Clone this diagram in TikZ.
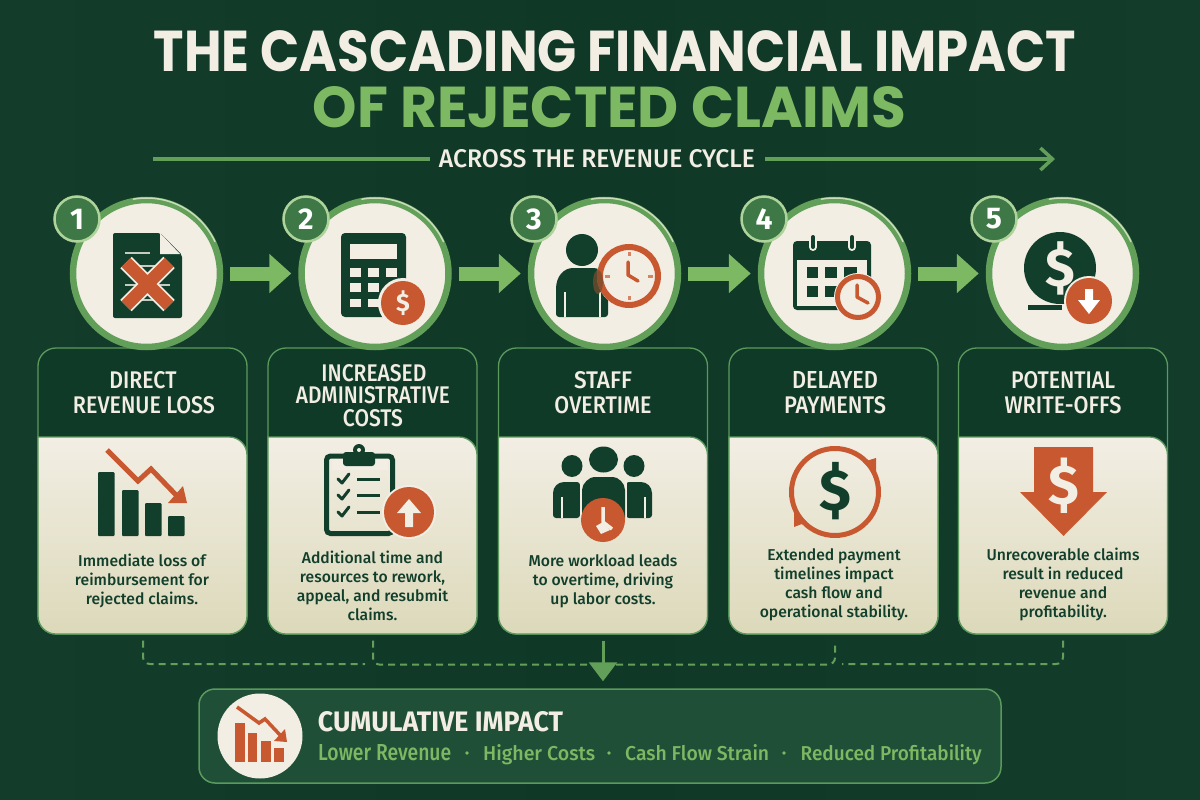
\documentclass[tikz,border=0pt]{standalone}
\usepackage{fontspec}
\usepackage{graphicx}
\setmainfont{Fira Sans}
\newfontfamily\titlefont{Poppins}
\newfontfamily\medfont{Fira Sans Medium}
\usetikzlibrary{arrows.meta,calc,shapes.geometric}
\definecolor{bgdark}{HTML}{0F3826}
\definecolor{bgedge}{HTML}{143C2B}
\definecolor{headdark}{HTML}{103A28}
\definecolor{ink}{HTML}{123F2B}
\definecolor{cream}{HTML}{F2EEE4}
\definecolor{creamlow}{HTML}{DCD9BA}
\definecolor{leaf}{HTML}{7DB862}
\definecolor{ringgreen}{HTML}{62A05A}
\definecolor{ringlight}{HTML}{C9DDB8}
\definecolor{badgefill}{HTML}{3E7846}
\definecolor{badgeedge}{HTML}{AFD49B}
\definecolor{cardedge}{HTML}{5A9A5C}
\definecolor{rust}{HTML}{C8582F}
\definecolor{sumfill}{HTML}{204F38}
\tikzset{
  stepcircle/.style={circle,draw=ringgreen,fill=cream,line width=6.5pt,minimum size=147pt,inner sep=0pt},
  numbadge/.style={circle,draw=badgeedge,fill=badgefill,line width=2.5pt,minimum size=45pt,inner sep=0pt,text=white,font=\fontsize{30}{30}\selectfont\bfseries},
  cardbox/.style={rectangle,rounded corners=18pt,draw=cardedge,fill=headdark,line width=1.3pt,minimum width=209pt,minimum height=286pt,inner sep=0pt},
  cardhead/.style={text=cream,inner sep=0pt,font=\medfont},
  cardtext/.style={text=ink,align=center,inner sep=0pt,font=\medfont\fontsize{15.7}{19}\selectfont},
  flowarrow/.style={draw=leaf,line width=14pt,-{Triangle[width=38pt,length=22pt]},shorten >=7pt,shorten <=7pt},
  dashlink/.style={draw=ringgreen,line width=2pt,dash pattern=on 7pt off 5pt,rounded corners=7pt},
  cycleline/.style={draw=ringgreen,line width=3.5pt},
  tick/.style={draw=ink,line width=3pt,line cap=round,line join=round},
}
\newcommand{\fitbox}[3]{\resizebox{#1pt}{#2pt}{#3}}
\newcommand{\bigdollar}[1]{{\fontsize{#1}{#1}\selectfont\bfseries\$}}
\begin{document}
\begin{tikzpicture}[x=1pt,y=-1pt]
\useasboundingbox (0,0) rectangle (1200,800);
\fill[left color=bgedge,right color=bgedge,middle color=bgdark] (0,0) rectangle (1200,800);

% Title
\node[inner sep=0pt,text=cream] (title1) at (615,51) {\fitbox{922}{41}{\titlefont\bfseries THE CASCADING FINANCIAL IMPACT}};
\node[inner sep=0pt,text=leaf] (title2) at (609.5,107.5) {\fitbox{593}{41}{\titlefont\bfseries OF REJECTED CLAIMS}};
\node[inner sep=0pt,text=cream] (across) at (597,159) {\fitbox{316}{18}{\medfont ACROSS THE REVENUE CYCLE}};
\coordinate (cyclestart) at (153,159);
\coordinate (cycleend) at (1055,159);
\draw[cycleline,shorten >=9pt] (cyclestart) -- (across);
\draw[cycleline,shorten <=10pt,-{Straight Barb[length=12pt,width=22pt,line width=3.5pt]}] (across) -- (cycleend);

% Cards
\foreach \n/\cx in {1/142.5,2/372.5,3/603,4/833.5,5/1063}{
  \node[cardbox] (card\n) at (\cx,491) {};
  \path[draw=cardedge,line width=1.3pt,top color=cream,bottom color=creamlow]
    (\cx-104.5,437) {[rounded corners=18pt] -- (\cx-104.5,634) -- (\cx+104.5,634) -- (\cx+104.5,437)} -- cycle;
}

% Step circles
\foreach \n/\cx in {1/146.5,2/375,3/604.5,4/834.5,5/1062.5}{
  \node[stepcircle] (step\n) at (\cx,273.5) {};
  \draw[ringlight,line width=1.5pt,line cap=round] ($(step\n.center)+(-100:75.5)$) arc[start angle=-100,end angle=-25,radius=75.5];
}
\foreach \a/\b in {1/2,2/3,3/4,4/5}{ \draw[flowarrow] (step\a) -- (step\b); }

% Icon 1: rejected document
\fill[ink,rounded corners=2pt] (113,233) -- (160,233) -- (182,255) -- (182,318) -- (113,318) -- cycle;
\fill[cream] (160,233) -- (160,254) -- (180,254) -- cycle;
\draw[cream!80!ink,line width=2.5pt] (125,253) -- (150,253) (125,266) -- (165,266) (125,285) -- (170,285) (125,300) -- (160,300);
\draw[cream,line width=16pt] (126,262.5) -- (169,305.5) (169,262.5) -- (126,305.5);
\draw[rust,line width=12.5pt] (126,262.5) -- (169,305.5) (169,262.5) -- (126,305.5);

% Icon 2: calculator
\fill[ink,rounded corners=4pt] (341,233) rectangle (406,317);
\fill[cream] (350,244) rectangle (397,259);
\foreach \px in {350,368,386}{ \fill[cream] (\px,268) rectangle (\px+11,277); }
\foreach \px in {350,368}{ \fill[cream] (\px,283) rectangle (\px+11,292); \fill[cream] (\px,299) rectangle (\px+11,307); }
\fill[cream] (403,303) circle (25);
\fill[rust] (403,303) circle (22);
\node[text=cream,inner sep=0pt] (coin2) at (403,303) {\bigdollar{25}};

% Icon 3: person and clock
\fill[ink] (582,250) circle (16);
\fill[ink,rounded corners=3pt] (556,317) -- (556,292) .. controls (556,276) and (564,268) .. (576,268) -- (590,268) .. controls (602,268) and (608,276) .. (608,292) -- (608,317) -- cycle;
\draw[cream,line width=2pt] (565,292) -- (565,317) (600,292) -- (600,317);
\fill[cream] (629,276) circle (32);
\draw[rust,line width=6pt] (629,276) circle (29);
\fill[rust!55!ink,opacity=.75] (598,282) ellipse (5 and 12);
\draw[rust,line width=3.5pt,line cap=round,line join=round] (628,262) -- (628,275) -- (638,281);
\draw[rust!70!cream,line width=3pt] (629,252) -- (629,256) (629,296) -- (629,300) (605,276) -- (610,276) (648,276) -- (653,276);

% Icon 4: calendar and clock
\fill[ink,rounded corners=4pt] (793,241) rectangle (871,310);
\fill[cream] (797,260) rectangle (867,306);
\foreach \px/\pw in {807/11,825/12,844/13}{ \fill[ink] (\px,267) rectangle (\px+\pw,278); }
\foreach \px/\pw in {807/11,825/12}{ \fill[ink] (\px,286) rectangle (\px+\pw,297); }
\foreach \px in {813,852}{ \draw[cream,line width=8pt,line cap=round] (\px,237) -- (\px,247); \draw[ink,line width=4pt,line cap=round] (\px,237) -- (\px,247); }
\fill[cream] (858,297) circle (24);
\draw[rust,line width=5pt] (858,297) circle (20.5);
\draw[rust,line width=3.5pt,line cap=round,line join=round] (857,285) -- (857,297) -- (868,303);

% Icon 5: falling money
\fill[ink] (1060,268) circle (36);
\fill[ink] (1028,305) rectangle (1062,310);
\node[text=cream,inner sep=0pt] (coin5) at (1060,268) {\bigdollar{54}};
\fill[cream] (1089,301) circle (25);
\fill[rust] (1089,301) circle (23);
\fill[white] (1085,289) -- (1093,289) -- (1093,300) -- (1100,300) -- (1089,314) -- (1078,300) -- (1085,300) -- cycle;

% Badges
\foreach \n/\cx in {1/77,2/306,3/534,4/764,5/994}{ \node[numbadge] (badge\n) at (\cx,219) {\n}; }

% Card headings
\node[cardhead] (h1a) at (143,380) {\fitbox{67}{17}{DIRECT}};
\node[cardhead] (h1b) at (144,405.5) {\fitbox{142}{17}{REVENUE LOSS}};
\node[cardhead] (h2a) at (374,373.5) {\fitbox{105}{17}{INCREASED}};
\node[cardhead] (h2b) at (373,395.5) {\fitbox{154}{17}{ADMINISTRATIVE}};
\node[cardhead] (h2c) at (373,418.5) {\fitbox{60}{17}{COSTS}};
\node[cardhead] (h3a) at (603,380) {\fitbox{58}{17}{STAFF}};
\node[cardhead] (h3b) at (603,405.5) {\fitbox{97}{17}{OVERTIME}};
\node[cardhead] (h4a) at (835,380) {\fitbox{86}{17}{DELAYED}};
\node[cardhead] (h4b) at (835,405.5) {\fitbox{102}{17}{PAYMENTS}};
\node[cardhead] (h5a) at (1063,380) {\fitbox{104}{17}{POTENTIAL}};
\node[cardhead] (h5b) at (1063,405.5) {\fitbox{117}{17}{WRITE-OFFS}};

% Card body texts
\node[cardtext] (t1) at (142,581) {Immediate loss of\\reimbursement for\\rejected claims.};
\node[cardtext] (t2) at (372.5,585.5) {Additional time and\\resources to rework,\\appeal, and resubmit\\claims.};
\node[cardtext] (t3) at (603,581) {More workload leads\\to overtime, driving\\up labor costs.};
\node[cardtext] (t4) at (834,585) {Extended payment\\timelines impact\\cash flow and\\operational stability.};
\node[cardtext] (t5) at (1063,584.5) {Unrecoverable claims\\result in reduced\\revenue and\\profitability.};

% Card icon 1: falling chart
\foreach \px/\py in {98/472,122/490,145/503,168/516}{ \fill[ink,rounded corners=1pt] (\px,\py) rectangle (\px+16.5,536); }
\draw[rust,line width=5pt,line join=miter] (107,450) -- (138,481) -- (151,469) -- (178,497);
\fill[rust] (187,503) -- (168,503) -- (183,486) -- cycle;

% Card icon 2: clipboard
\draw[ink,line width=5pt,rounded corners=4pt] (326.5,456) rectangle (392.5,533.5);
\fill[cream] (332,459) rectangle (388,470);
\fill[ink,rounded corners=3pt] (343,452) rectangle (375,466);
\fill[ink] (359,450) circle (6);
\fill[cream] (359,450) circle (2);
\foreach \ly in {479,495,512}{
  \draw[tick] (338,\ly) -- (342,\ly+4) -- (349,\ly-5);
  \draw[ink,line width=3pt] (357,\ly) -- (380,\ly);
}
\fill[cream] (409,512) circle (27);
\fill[rust] (409,512) circle (25);
\fill[cream] (405,527) -- (413,527) -- (413,513) -- (421,513) -- (409,499) -- (397,513) -- (405,513) -- cycle;

% Card icon 3: team
\fill[ink] (572,466) ellipse (10.5 and 11);
\fill[ink] (634,466) ellipse (10.5 and 11);
\fill[ink] (603.5,459.5) ellipse (14.5 and 13);
\fill[ink,rounded corners=3pt] (553,518) -- (553,496) .. controls (553,487) and (558,482) .. (567,482) -- (580,482) -- (580,518) -- cycle;
\fill[ink,rounded corners=3pt] (652,518) -- (652,496) .. controls (652,487) and (647,482) .. (638,482) -- (626,482) -- (626,518) -- cycle;
\draw[cream,line width=2pt] (581,480) -- (581,518) (626,480) -- (626,518);
\draw[cream,line width=2pt] (562,497) -- (562,518) (645,497) -- (645,518);
\fill[ink,rounded corners=4pt] (582,522) -- (582,494) .. controls (582,483) and (590,477) .. (598,477) -- (609,477) .. controls (618,477) and (625,483) .. (625,494) -- (625,522) -- cycle;
\fill[rust] (603,520) circle (22);
\draw[cream,line width=3.5pt,line join=round] (603,507) -- (603,522) -- (612,529);
\fill[cream] (603,522) -- (610,530) -- (601,534) -- (596,526) -- cycle;

% Card icon 4: payment cycle
\draw[rust,line width=5pt] (835,492) circle (43.5);
\fill[rust] (863,462) -- (876,458) -- (876,475) -- cycle;
\fill[rust] (807,522) -- (794,527) -- (794,510) -- cycle;
\node[text=ink,inner sep=0pt] (coin4) at (835,491) {\bigdollar{58}};

% Card icon 5: write-off arrow
\fill[rust] (1034,447) -- (1093,447) -- (1093,492) -- (1107,492) -- (1063.5,536) -- (1020,492) -- (1034,492) -- cycle;
\node[text=cream,inner sep=0pt] (coin6) at (1064,486) {\bigdollar{56}};

% Summary panel
\node[rectangle,rounded corners=16pt,draw=cardedge,fill=sumfill,line width=1.5pt,minimum width=802pt,minimum height=94pt,inner sep=0pt] (summary) at (600,736) {};
\node[circle,fill=cream,minimum size=85pt,inner sep=0pt] (sumicon) at (260,736) {};
\foreach \px/\py/\pw in {234.5/723/10.5,248/733/9,261/741/10,273.5/748/10.5}{ \fill[rust] (\px,\py) rectangle (\px+\pw,762); }
\draw[rust,line width=3.5pt] (237,707) -- (259,723) -- (265,719) -- (281,736);
\fill[rust] (287,742) -- (274,741) -- (285,729) -- cycle;
\node[inner sep=0pt,text=cream] (cumu) at (440.5,722) {\fitbox{245}{20}{\bfseries CUMULATIVE IMPACT}};
\node[inner sep=0pt,text=leaf,anchor=base west] (s1) at (318,760) {\fitbox{133}{16}{\medfont Lower Revenue}};
\node[inner sep=0pt,text=leaf,anchor=base west] (s2) at (483,760) {\fitbox{112}{16}{\medfont Higher Costs}};
\node[inner sep=0pt,text=leaf,anchor=base west] (s3) at (625,760) {\fitbox{144}{16}{\medfont Cash Flow Strain}};
\node[inner sep=0pt,text=leaf,anchor=base west] (s4) at (800.5,760) {\fitbox{181}{16}{\medfont Reduced Profitability}};
\foreach \dx in {467,609,784}{ \fill[leaf] (\dx,753) circle (1.8); }

% Connectors to the summary
\coordinate (leftend) at (365,664);
\coordinate (rightend) at (842,664);
\draw[dashlink] ($(card1.south)+(0.5,6)$) |- (leftend);
\draw[dashlink] ($(card2.south)+(0.5,6)$) -- ++(0,24) -| ($(card4.south)+(1.5,6)$);
\draw[dashlink] ($(card5.south)+(0,6)$) |- (rightend);
\draw[draw=ringgreen,line width=3pt,-{Triangle[width=28pt,length=19pt]},shorten <=6pt,shorten >=7pt] (card3.south) -- (card3.south |- summary.north);
\end{tikzpicture}
\end{document}
